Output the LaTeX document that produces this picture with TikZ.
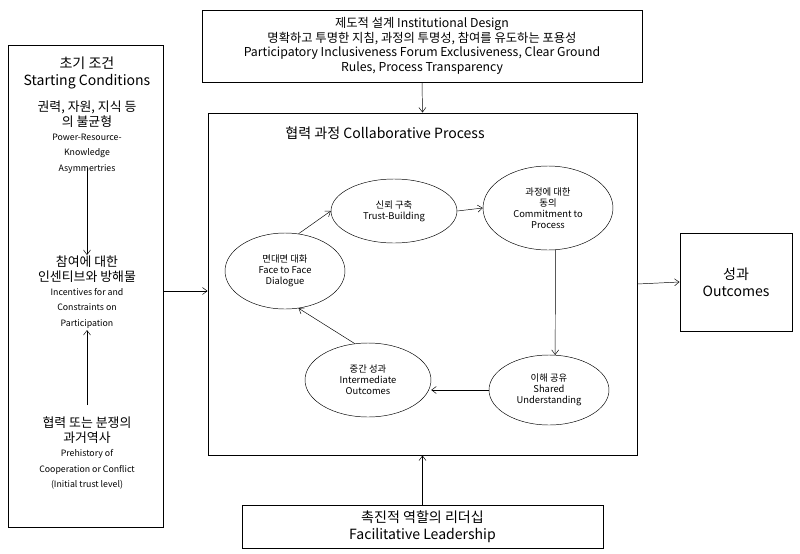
\documentclass[tikz,border=0pt]{standalone}
\usepackage{fontspec}
\setmainfont{Noto Sans CJK KR}
\usetikzlibrary{arrows.meta,shapes.geometric}
\newcommand{\bigf}{\fontsize{11}{13}\selectfont}
\newcommand{\smf}{\fontsize{7.5}{9}\selectfont}
\begin{document}
\begin{tikzpicture}[x=0.03cm,y=-0.03cm,
  box/.style={draw,thick,rectangle,align=center,inner sep=0pt},
  ell/.style={draw,ellipse,align=center,inner sep=0pt,font=\fontsize{8}{9.5}\selectfont},
  arr/.style={-{Straight Barb[length=4pt,width=6pt]}}]
\useasboundingbox (0,0) rectangle (800,554);
\node[box,minimum width=155*0.03cm,minimum height=482*0.03cm] (L) at (85.5,286) {};
\node[box,minimum width=440*0.03cm,minimum height=72*0.03cm] (T) at (422,46) {};
\node[box,minimum width=429*0.03cm,minimum height=342*0.03cm] (C) at (422.5,284) {};
\node[box,minimum width=112*0.03cm,minimum height=98*0.03cm] (O) at (736,282) {};
\node[box,minimum width=361*0.03cm,minimum height=43*0.03cm] (B) at (422.5,526.5) {};
% texts
\node[align=center,font=\fontsize{10.5}{12.5}\selectfont] (Tt) at (422,46) {제도적 설계 Institutional Design\\명확하고 투명한 지침, 과정의 투명성, 참여를 유도하는 포용성\\Participatory Inclusiveness Forum Exclusiveness, Clear Ground\\Rules, Process Transparency};
\node[align=center,font=\fontsize{12}{14.5}\selectfont] (Ot) at (736,282) {성과\\Outcomes};
\node[align=center,font=\fontsize{12}{14.5}\selectfont] (Bt) at (422.5,526.5) {촉진적 역할의 리더십\\Facilitative Leadership};
\node[font=\fontsize{12}{14}\selectfont] (Ct) at (385,133) {협력 과정 Collaborative Process};
\node[align=center,font=\fontsize{12}{14.5}\selectfont] (Lt) at (87,73) {초기 조건\\Starting Conditions};
\node[align=center,font=\bigf] (L1) at (87,137) {권력, 자원, 지식 등\\의 불균형\\[-1pt]\smf Power-Resource-\\\smf Knowledge\\\smf Asymmertries};
\node[align=center,font=\bigf] (L2) at (87,292) {참여에 대한\\인센티브와 방해물\\[-1pt]\smf Incentives for and\\\smf Constraints on\\\smf Participation};
\node[align=center,font=\bigf] (L3) at (87,453) {협력 또는 분쟁의\\과거역사\\[-1pt]\smf Prehistory of\\\smf Cooperation or Conflict\\\smf (Initial trust level)};
% ellipses
\node[ell,minimum width=126*0.03cm,minimum height=64*0.03cm] (E1) at (394,211) {신뢰 구축\\Trust-Building};
\node[ell,minimum width=130*0.03cm,minimum height=84*0.03cm] (E2) at (548,208) {과정에 대한\\동의\\Commitment to\\Process};
\node[ell,minimum width=120*0.03cm,minimum height=76*0.03cm] (E3) at (285,271) {면대면 대화\\Face to Face\\Dialogue};
\node[ell,minimum width=120*0.03cm,minimum height=70*0.03cm] (E4) at (549,390) {이해 공유\\Shared\\Understanding};
\node[ell,minimum width=126*0.03cm,minimum height=74*0.03cm] (E5) at (368,380) {중간 성과\\Intermediate\\Outcomes};
% arrows
\draw[arr] (T.south) -- (C.north);
\draw[arr] (B.north) -- (C.south);
\draw[arr] (L.east |- 0,291) -- (C.west |- 0,291);
\draw[arr] (C.east |- 0,284) -- (O.west |- 0,282);
\draw[arr] (87,168) -- (87,255);
\draw[arr] (87,405) -- (87,330);
\draw[arr] (E3.70) -- (E1.west);
\draw[arr] (E1.east) -- (E2.west);
\draw[arr] (E2.-80) -- (E4.80);
\draw[arr] (E4.west) -- (E5.east |- E4.west);
\draw[arr] (E5.110) -- (E3.-70);
\end{tikzpicture}
\end{document}
